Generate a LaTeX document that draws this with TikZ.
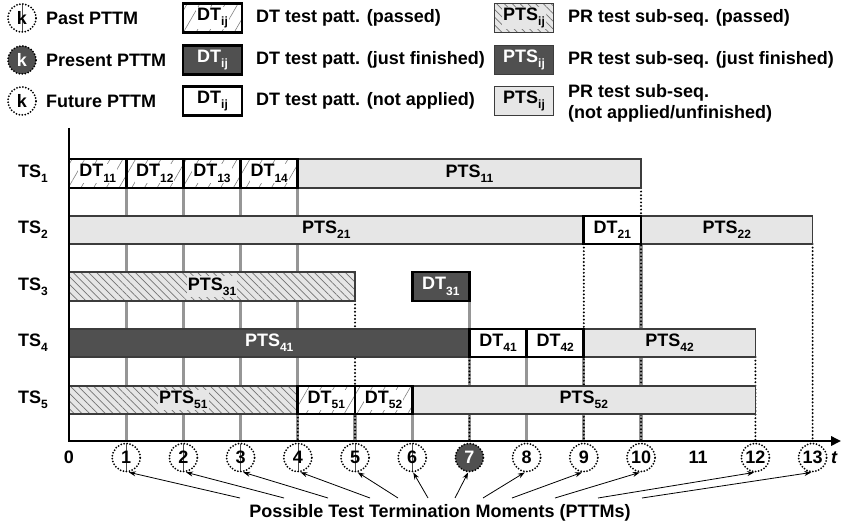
\documentclass[tikz,border=0pt]{standalone}
\usepackage{fontspec}
\setmainfont{Liberation Sans}
\usetikzlibrary{arrows.meta,patterns.meta}
\definecolor{lightfill}{RGB}{230,230,230}
\definecolor{darkfill}{RGB}{80,80,80}
\definecolor{gline}{RGB}{150,150,150}
\definecolor{barline}{RGB}{60,60,60}
\newcommand{\subx}[1]{\raisebox{-0.3em}{\fontsize{12}{12}\selectfont #1}}
\tikzset{
 txt/.style={font=\fontsize{18}{21}\selectfont\bfseries, inner sep=0pt},
 ptsbar/.style={draw=barline, line width=1.3pt, fill=lightfill},
 ptspass/.style={draw=barline, line width=1.3pt, preaction={fill=lightfill}, pattern={Lines[angle=-45,distance=5.5pt,line width=0.7pt]}, pattern color=gray!90!black},
 ptsnow/.style={draw=barline, line width=1.3pt, fill=darkfill},
 dtbox/.style={draw=black, line width=2.8pt, fill=white},
 dtpass/.style={draw=black, line width=2.8pt, preaction={fill=white}, pattern={Lines[angle=60,distance=11pt,line width=0.6pt]}, pattern color=gray},
 dtnow/.style={draw=black, line width=2.8pt, fill=darkfill},
 gvl/.style={draw=gline, line width=3.2pt},
 dvl/.style={draw=black, line width=2.2pt, line cap=round, dash pattern=on 0pt off 3.6pt},
 thinl/.style={draw=gray!60!black, line width=0.6pt},
 pttm/.style={circle, minimum size=28pt, txt, draw=black, line width=2pt, line cap=round, dash pattern=on 0pt off 3pt},
 lbl/.style={txt, inner sep=1pt},
 arr/.style={draw=black, line width=0.8pt, -{Stealth[length=7pt,width=5pt]}},
 lgbox/.style={minimum width=59pt, minimum height=29pt, inner sep=0pt}
}
\begin{document}
\begin{tikzpicture}[x=1pt,y=-1pt]
\useasboundingbox (0,0) rectangle (842,526);
% ---------------- legend ----------------
\draw[thinl] (22,4) -- (22,32);
\node[pttm] (lgpast) at (22,18) {k};
\node[pttm, fill=darkfill, text=white] (lgnow) at (22,60) {k};
\node[pttm] (lgfut) at (22,101) {k};
\node[txt, anchor=west] (lgpastt) at (46,18) {Past PTTM};
\node[txt, anchor=west] (lgnowt) at (46,60) {Present PTTM};
\node[txt, anchor=west] (lgfutt) at (46,101) {Future PTTM};

\node[dtpass, lgbox] (lgdt1) at (212.5,18) {};
\node[lbl, fill=white] (lgdt1t) at (lgdt1) {DT\subx{ij}};
\node[dtnow, lgbox, text=white, txt] (lgdt2) at (212.5,60) {DT\subx{ij}};
\node[dtbox, lgbox, txt] (lgdt3) at (212.5,101) {DT\subx{ij}};
\node[txt, anchor=west] (lgdt1d) at (256,18) {DT test patt. (passed)};
\node[txt, anchor=west] (lgdt2d) at (256,60) {DT test patt. (just finished)};
\node[txt, anchor=west] (lgdt3d) at (256,101) {DT test patt. (not applied)};

\node[ptspass, lgbox] (lgpts1) at (524,18) {};
\node[lbl, fill=lightfill] (lgpts1t) at (lgpts1) {PTS\subx{ij}};
\node[ptsnow, lgbox, text=white, txt] (lgpts2) at (524,60) {PTS\subx{ij}};
\node[ptsbar, lgbox, txt] (lgpts3) at (524,101) {PTS\subx{ij}};
\node[txt, anchor=west] (lgpts1d) at (568,18) {PR test sub-seq. (passed)};
\node[txt, anchor=west] (lgpts2d) at (568,60) {PR test sub-seq. (just finished)};
\node[txt, anchor=west, align=left] (lgpts3d) at (568,103) {PR test sub-seq.\\(not applied/unfinished)};

% ---------------- row labels ----------------
\node[txt, anchor=east] (ts1) at (48,173.5) {TS\subx{1}};
\node[txt, anchor=east] (ts2) at (48,230) {TS\subx{2}};
\node[txt, anchor=east] (ts3) at (48,286.5) {TS\subx{3}};
\node[txt, anchor=east] (ts4) at (48,343) {TS\subx{4}};
\node[txt, anchor=east] (ts5) at (48,400) {TS\subx{5}};

% ---------------- chart ----------------
\begin{scope}[x=57.2pt, y=-1pt, shift={(69pt,0pt)}]
% grey guide lines
\foreach \k in {1,2,3,4} \draw[gvl] (\k,188) -- (\k,441);
\draw[gvl] (5,414) -- (5,441);
\draw[gvl] (6,414) -- (6,441);
\draw[gvl] (7,301) -- (7,441);
\draw[gvl] (8,357) -- (8,441);
\draw[gvl] (9,357) -- (9,441);
\draw[gvl] (10,244) -- (10,441);
% dotted lines
\draw[dvl] (4,414) -- (4,441);
\draw[dvl] (5,301) -- (5,441);
\draw[dvl] (7,357) -- (7,441);
\draw[dvl] (9,244) -- (9,441);
\draw[dvl] (10,188) -- (10,441);
\draw[dvl] (12,357) -- (12,441);
\draw[dvl] (13,244) -- (13,441);

% TS1
\draw[ptsbar] (4,159) rectangle (10,188);
\draw[dtpass] (0,159) rectangle (1,188);
\draw[dtpass] (1,159) rectangle (2,188);
\draw[dtpass] (2,159) rectangle (3,188);
\draw[dtpass] (3,159) rectangle (4,188);
\node[lbl, fill=white] (dt11) at (0.5,173.5) {DT\subx{11}};
\node[lbl, fill=white] (dt12) at (1.5,173.5) {DT\subx{12}};
\node[lbl, fill=white] (dt13) at (2.5,173.5) {DT\subx{13}};
\node[lbl, fill=white] (dt14) at (3.5,173.5) {DT\subx{14}};
\node[lbl] (pts11) at (7,173.5) {PTS\subx{11}};
% TS2
\draw[ptsbar] (0,216) rectangle (9,244);
\draw[ptsbar] (10,216) rectangle (13,244);
\draw[dtbox] (9,216) rectangle (10,244);
\node[lbl] (pts21) at (4.5,230) {PTS\subx{21}};
\node[lbl] (dt21) at (9.5,230) {DT\subx{21}};
\node[lbl] (pts22) at (11.5,230) {PTS\subx{22}};
% TS3
\draw[ptspass] (0,272) rectangle (5,301);
\draw[dtnow] (6,272) rectangle (7,301);
\node[lbl, fill=lightfill] (pts31) at (2.5,286.5) {PTS\subx{31}};
\node[lbl, text=white] (dt31) at (6.5,286.5) {DT\subx{31}};
% TS4
\draw[ptsnow] (0,329) rectangle (7,357);
\draw[ptsbar] (9,329) rectangle (12,357);
\draw[dtbox] (7,329) rectangle (8,357);
\draw[dtbox] (8,329) rectangle (9,357);
\node[lbl, text=white] (pts41) at (3.5,343) {PTS\subx{41}};
\node[lbl] (dt41) at (7.5,343) {DT\subx{41}};
\node[lbl] (dt42) at (8.5,343) {DT\subx{42}};
\node[lbl] (pts42) at (10.5,343) {PTS\subx{42}};
% TS5
\draw[ptspass] (0,386) rectangle (4,414);
\draw[ptsbar] (6,386) rectangle (12,414);
\draw[dtpass] (4,386) rectangle (5,414);
\draw[dtpass] (5,386) rectangle (6,414);
\node[lbl, fill=lightfill] (pts51) at (2,400) {PTS\subx{51}};
\node[lbl, fill=white] (dt51) at (4.5,400) {DT\subx{51}};
\node[lbl, fill=white] (dt52) at (5.5,400) {DT\subx{52}};
\node[lbl] (pts52) at (9,400) {PTS\subx{52}};

% axes
\draw[line width=2.6pt, line join=miter, -{Triangle[length=10pt,width=9pt]}] (0,128) -- (0,441) -- (13.5,441);

% PTTM circles
\foreach \k in {1,...,6} \draw[thinl] (\k,443.5) -- (\k,471.5);
\foreach \k in {1,2,3,4,5,6,8,9,10,12,13} \node[pttm] (c\k) at (\k,457.5) {\k};
\node[pttm, fill=darkfill, text=white] (c7) at (7,457.5) {7};
\node[txt] (n0) at (0,457.5) {0};
\node[txt] (n11) at (11,457.5) {11};
\end{scope}
\node[txt, font=\fontsize{18}{21}\selectfont\bfseries\itshape] (tlab) at (834,457.5) {t};

% bottom caption and arrows
\node[txt] (pttms) at (440,513) {Possible Test Termination Moments (PTTMs)};
\coordinate (p1) at (240,498);
\coordinate (p2) at (284,498);
\coordinate (p3) at (328,498);
\coordinate (p4) at (370,498);
\coordinate (p5) at (398,498);
\coordinate (p6) at (428,498);
\coordinate (p7) at (455,498);
\coordinate (p8) at (483,498);
\coordinate (p9) at (512,498);
\coordinate (p10) at (555,498);
\coordinate (p12) at (598,498);
\coordinate (p13) at (642,498);
\draw[arr] (p1) -- (c1.-80);
\draw[arr] (p2) -- (c2.-80);
\draw[arr] (p3) -- (c3.-80);
\draw[arr] (p4) -- (c4.-80);
\draw[arr] (p5) -- (c5.-80);
\draw[arr] (p6) -- (c6.-86);
\draw[arr] (p7) -- (c7.-95);
\draw[arr] (p8) -- (c8.-97);
\draw[arr] (p9) -- (c9.-97);
\draw[arr] (p10) -- (c10.-95);
\draw[arr] (p12) -- (c12.-95);
\draw[arr] (p13) -- (c13.-95);
\end{tikzpicture}
\end{document}
